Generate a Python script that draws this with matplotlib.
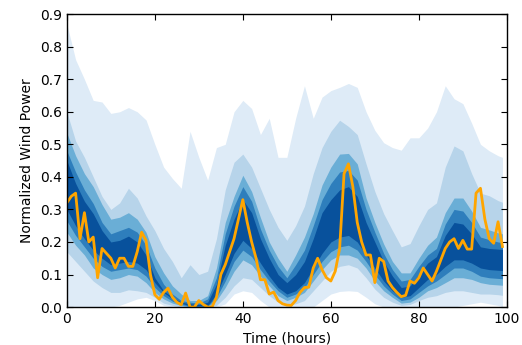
import numpy as np
import matplotlib
matplotlib.use("Agg")
import matplotlib.pyplot as plt

# hours for the quantile bands (every 2 h) and for the observed series (hourly)
band_hours = list(range(0, 100, 2)) + [99]
obs_hours = list(range(0, 100))

# band edges, from the outermost band (1) to the innermost (5)
upper_1 = [0.87, 0.76, 0.70, 0.635, 0.63, 0.595, 0.60, 0.613, 0.60, 0.575,
           0.50, 0.43, 0.395, 0.365, 0.54, 0.46, 0.39, 0.49, 0.50, 0.60,
           0.635, 0.61, 0.53, 0.58, 0.46, 0.46, 0.58, 0.68, 0.58, 0.645,
           0.665, 0.675, 0.687, 0.675, 0.60, 0.543, 0.505, 0.49, 0.482, 0.52,
           0.52, 0.55, 0.60, 0.68, 0.64, 0.625, 0.565, 0.50, 0.48, 0.465, 0.46]
upper_2 = [0.60, 0.51, 0.46, 0.40, 0.34, 0.30, 0.32, 0.365, 0.335, 0.28,
           0.235, 0.18, 0.14, 0.09, 0.13, 0.10, 0.11, 0.21, 0.36, 0.445,
           0.47, 0.43, 0.365, 0.30, 0.245, 0.205, 0.25, 0.31, 0.41, 0.49,
           0.54, 0.574, 0.555, 0.53, 0.44, 0.355, 0.287, 0.235, 0.185, 0.195,
           0.25, 0.30, 0.32, 0.43, 0.495, 0.48, 0.41, 0.35, 0.342, 0.327, 0.322]
upper_3 = [0.535, 0.465, 0.41, 0.37, 0.315, 0.27, 0.276, 0.29, 0.27, 0.23,
           0.155, 0.105, 0.065, 0.04, 0.02, 0.02, 0.035, 0.12, 0.26, 0.34,
           0.405, 0.355, 0.275, 0.20, 0.15, 0.11, 0.16, 0.215, 0.287, 0.375,
           0.43, 0.47, 0.472, 0.44, 0.335, 0.26, 0.194, 0.14, 0.105, 0.105,
           0.15, 0.19, 0.215, 0.29, 0.335, 0.335, 0.295, 0.245, 0.237, 0.228, 0.225]
upper_4 = [0.48, 0.415, 0.36, 0.318, 0.26, 0.225, 0.235, 0.245, 0.23, 0.19,
           0.12, 0.07, 0.04, 0.02, 0.015, 0.012, 0.025, 0.09, 0.225, 0.31,
           0.37, 0.325, 0.24, 0.175, 0.125, 0.09, 0.13, 0.175, 0.25, 0.33,
           0.38, 0.415, 0.42, 0.39, 0.30, 0.23, 0.165, 0.115, 0.08, 0.085,
           0.125, 0.16, 0.18, 0.255, 0.30, 0.295, 0.26, 0.215, 0.207, 0.20, 0.198]
upper_5 = [0.45, 0.38, 0.325, 0.287, 0.235, 0.20, 0.205, 0.218, 0.20, 0.16,
           0.09, 0.05, 0.03, 0.015, 0.01, 0.008, 0.015, 0.07, 0.19, 0.27,
           0.33, 0.29, 0.21, 0.15, 0.10, 0.075, 0.10, 0.14, 0.21, 0.29,
           0.33, 0.36, 0.37, 0.34, 0.26, 0.20, 0.14, 0.095, 0.06, 0.065,
           0.10, 0.135, 0.155, 0.22, 0.26, 0.255, 0.225, 0.185, 0.18, 0.178, 0.177]
lower_5 = [0.30, 0.25, 0.21, 0.175, 0.15, 0.13, 0.135, 0.14, 0.135, 0.115,
           0.075, 0.045, 0.025, 0.012, 0.004, 0.004, 0.004, 0.04, 0.10, 0.165,
           0.205, 0.18, 0.135, 0.095, 0.06, 0.04, 0.05, 0.075, 0.12, 0.165,
           0.20, 0.215, 0.22, 0.20, 0.16, 0.12, 0.08, 0.05, 0.03, 0.035,
           0.06, 0.085, 0.10, 0.125, 0.145, 0.145, 0.135, 0.12, 0.115, 0.113, 0.112]
lower_4 = [0.265, 0.22, 0.185, 0.15, 0.125, 0.11, 0.115, 0.12, 0.115, 0.095,
           0.06, 0.035, 0.018, 0.008, 0.002, 0.002, 0.002, 0.03, 0.08, 0.14,
           0.175, 0.155, 0.115, 0.08, 0.05, 0.03, 0.04, 0.06, 0.10, 0.14,
           0.17, 0.185, 0.19, 0.175, 0.14, 0.10, 0.065, 0.04, 0.02, 0.025,
           0.045, 0.065, 0.08, 0.10, 0.12, 0.12, 0.11, 0.095, 0.09, 0.088, 0.087]
lower_3 = [0.23, 0.19, 0.16, 0.12, 0.10, 0.085, 0.09, 0.10, 0.095, 0.075,
           0.045, 0.025, 0.012, 0.005, 0.0, 0.0, 0.0, 0.02, 0.06, 0.11,
           0.145, 0.13, 0.095, 0.065, 0.035, 0.02, 0.03, 0.045, 0.08, 0.115,
           0.145, 0.16, 0.16, 0.15, 0.12, 0.08, 0.05, 0.03, 0.012, 0.015,
           0.03, 0.05, 0.06, 0.075, 0.09, 0.09, 0.085, 0.075, 0.07, 0.068, 0.067]
lower_2 = [0.17, 0.14, 0.11, 0.08, 0.06, 0.045, 0.045, 0.053, 0.05, 0.045,
           0.03, 0.012, 0.005, 0.0, 0.0, 0.0, 0.0, 0.005, 0.03, 0.065,
           0.09, 0.085, 0.06, 0.035, 0.015, 0.005, 0.01, 0.02, 0.05, 0.08,
           0.11, 0.125, 0.13, 0.12, 0.09, 0.055, 0.03, 0.015, 0.005, 0.008,
           0.02, 0.03, 0.035, 0.045, 0.05, 0.05, 0.045, 0.04, 0.04, 0.038, 0.036]
lower_1 = [0.0, 0.0, 0.0, 0.0, 0.0, 0.0, 0.005, 0.015, 0.025, 0.03,
           0.02, 0.005, 0.0, 0.0, 0.0, 0.0, 0.0, 0.0, 0.01, 0.04,
           0.05, 0.045, 0.02, 0.0, 0.0, 0.0, 0.0, 0.0, 0.0, 0.02,
           0.04, 0.048, 0.05, 0.048, 0.03, 0.01, 0.0, 0.0, 0.0, 0.0,
           0.0, 0.0, 0.0, 0.0, 0.0, 0.005, 0.01, 0.015, 0.01, 0.005, 0.0]

observed = [0.32, 0.34, 0.35, 0.21, 0.29, 0.20, 0.215, 0.09, 0.18, 0.165,
            0.15, 0.12, 0.15, 0.15, 0.125, 0.125, 0.17, 0.23, 0.205, 0.10,
            0.038, 0.024, 0.045, 0.058, 0.03, 0.015, 0.007, 0.043, 0.0, 0.0,
            0.02, 0.008, 0.0, 0.0, 0.03, 0.10, 0.13, 0.17, 0.21, 0.27,
            0.33, 0.26, 0.20, 0.15, 0.084, 0.084, 0.04, 0.046, 0.02, 0.01,
            0.006, 0.005, 0.02, 0.045, 0.06, 0.061, 0.12, 0.15, 0.115, 0.09,
            0.08, 0.11, 0.18, 0.41, 0.44, 0.37, 0.26, 0.20, 0.16, 0.16,
            0.075, 0.15, 0.14, 0.08, 0.06, 0.045, 0.032, 0.036, 0.08, 0.073,
            0.09, 0.12, 0.10, 0.08, 0.11, 0.145, 0.18, 0.20, 0.21, 0.18,
            0.205, 0.178, 0.178, 0.35, 0.365, 0.27, 0.21, 0.196, 0.262, 0.186]

bands = [(lower_1, upper_1, "#deebf7"),
         (lower_2, upper_2, "#b7d4ea"),
         (lower_3, upper_3, "#6aaed6"),
         (lower_4, upper_4, "#2e7ebc"),
         (lower_5, upper_5, "#08519c")]

fig = plt.figure(figsize=(5.22, 3.45), dpi=100)
ax = fig.add_axes([0.128, 0.110, 0.843, 0.849])

for lo, hi, col in bands:
    ax.fill_between(band_hours, lo, hi, color=col, linewidth=0)

ax.plot(obs_hours, observed, color="orange", linewidth=2)

ax.set_xlim(0, 100)
ax.set_ylim(0, 0.9)
ax.set_xticks(np.arange(0, 101, 20))
ax.set_yticks(np.arange(0, 0.91, 0.1))
ax.set_yticklabels(["%.1f" % t for t in np.arange(0, 0.91, 0.1)])
ax.tick_params(direction="in", top=True, right=True, length=4, labelsize=10)
ax.set_xlabel("Time (hours)", fontsize=10)
ax.set_ylabel("Normalized Wind Power", fontsize=10)
for s in ax.spines.values():
    s.set_linewidth(1)

fig.savefig("out.png", dpi=100)
